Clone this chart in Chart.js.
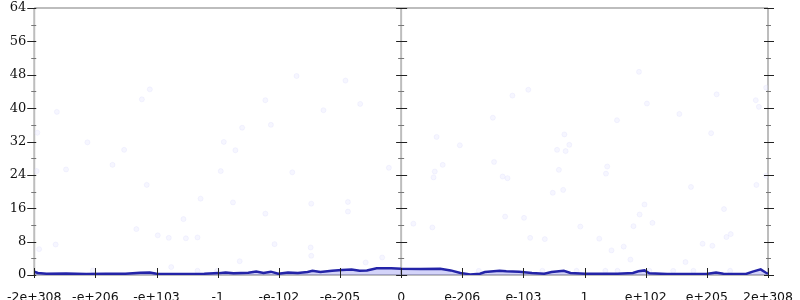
<!DOCTYPE html>
<html>
<head>
<meta charset="utf-8">
<script src="https://cdn.jsdelivr.net/npm/chart.js@4"></script>
<style>
  html, body { margin: 0; padding: 0; background: #fff; }
  #wrap { width: 800px; height: 300px; position: relative; }
</style>
</head>
<body>
<div id="wrap"><canvas id="chart"></canvas></div>
<script>
// x positions are slots -6..6, labelled with the float magnitudes
const xLabels = ['-2e+308', '-e+206', '-e+103', '-1', '-e-102', '-e-205', '0',
                 'e-206', 'e-103', '1', 'e+102', 'e+205', '2e+308'];

// faint scattered samples
const dotX = [-5.63, -5.95, -5.96, -5.13, -5.48, -4.72, -4.53, -4.24, -4.11, -4.16, -4.33, -3.98,
  -3.80, -3.52, -3.33, -3.56, -3.28, -2.95, -2.90, -2.71, -2.60, -2.75, -2.22, -2.13, -2.22,
  -1.78, -1.47, -1.27, -0.91, -0.67, -0.87, -0.87, -0.20, -1.71, -5.92, -5.65, -2.07, -1.48,
  -1.47, -2.64, -0.58, -0.31, -3.76, -5.04, -3.33, -3.01,
  0.20, 0.51, 0.53, 0.55, 0.68, 0.58, 0.96, 1.50, 1.52, 1.66, 1.74, 1.82, 2.08, 1.70, 2.01,
  2.11, 2.35, 2.48, 2.65, 2.58, 2.55, 2.69, 2.75, 2.67, 2.93, 3.24, 3.35, 3.37, 3.53, 3.80,
  3.90, 3.98, 4.11, 4.02, 4.55, 4.74, 5.07, 5.16, 5.28, 5.32, 5.39, 5.80, 5.85, 5.97, 5.81,
  3.89, 3.44, 3.64, 3.75, 4.65, 4.93, 5.09, 5.97, 1.27, 2.31, 2.87, 3.34, 3.54, 4.06, 4.45,
  4.78, 5.38];
const dotY = [39.1, 34.1, 24.9, 31.8, 25.3, 26.4, 30.0, 42.1, 44.5, 21.6, 11.0, 9.5,
  8.9, 8.8, 9.0, 13.4, 18.3, 24.9, 31.9, 29.9, 35.3, 17.4, 41.9, 36.0, 14.7,
  24.6, 17.1, 39.5, 46.6, 41.0, 17.5, 15.2, 25.7, 47.7, 6.2, 7.3, 7.4, 6.6,
  4.6, 3.3, 3.0, 4.2, 1.9, 1.1, 1.0, 1.0,
  12.3, 11.4, 23.4, 24.8, 26.4, 33.1, 31.1, 37.7, 27.1, 23.6, 23.2, 43.0, 44.4, 14.0, 13.7,
  8.9, 8.6, 19.7, 20.4, 25.2, 30.0, 29.7, 31.2, 33.7, 11.6, 8.7, 24.3, 26.0, 37.1, 11.7,
  14.5, 16.9, 12.5, 41.1, 38.6, 21.1, 34.0, 43.3, 15.8, 9.1, 9.8, 41.9, 40.3, 44.9, 21.6,
  48.7, 5.9, 6.8, 3.7, 3.1, 7.5, 7.0, 23.8, 1.0, 1.0, 1.0, 1.0, 1.0, 1.0, 1.0,
  1.0, 1.0];

// density line along the bottom
const lineX = [-6.0, -5.94, -5.8, -5.48, -5.15, -4.83, -4.51, -4.27, -4.11, -4.0, -3.62, -3.22,
  -2.98, -2.87, -2.74, -2.5, -2.37, -2.25, -2.13, -2.01, -1.85, -1.69, -1.53, -1.45, -1.32,
  -1.13, -0.97, -0.81, -0.68, -0.56, -0.4, -0.16, 0,
  0.32, 0.64, 0.81, 0.97, 1.13, 1.29, 1.37, 1.61, 1.72, 1.93, 2.14, 2.34, 2.46, 2.58, 2.66,
  2.77, 3.01, 3.54, 3.79, 3.88, 3.98, 4.06, 4.35, 4.99, 5.15, 5.27, 5.64, 5.75, 5.88, 5.96, 6.0];
const lineY = [0.8, 0.5, 0.3, 0.35, 0.25, 0.3, 0.3, 0.55, 0.6, 0.3, 0.25, 0.3,
  0.45, 0.6, 0.4, 0.55, 0.85, 0.5, 0.8, 0.3, 0.6, 0.5, 0.7, 1.0, 0.7,
  1.0, 1.2, 1.3, 1.0, 1.1, 1.6, 1.6, 1.5,
  1.45, 1.5, 1.1, 0.5, 0.15, 0.3, 0.7, 1.0, 0.9, 0.8, 0.5, 0.3, 0.7, 0.9, 1.0,
  0.5, 0.3, 0.3, 0.5, 0.9, 1.1, 0.4, 0.25, 0.25, 0.6, 0.3, 0.25, 0.8, 1.35, 0.6, 0.3];

const yMax = 64, yStep = 8;

// axes frame, centre axis and the cross ticks
const frame = {
  id: 'frame',
  beforeDatasetsDraw(chart) {
    const { ctx, chartArea: a, scales: { x } } = chart;
    const cx = x.getPixelForValue(0);
    ctx.save();
    ctx.strokeStyle = '#bdbdbd';
    ctx.lineWidth = 2;
    ctx.beginPath();
    ctx.moveTo(a.left, a.top); ctx.lineTo(a.right, a.top);
    ctx.moveTo(a.left, a.top); ctx.lineTo(a.left, a.bottom);
    ctx.moveTo(a.right, a.top); ctx.lineTo(a.right, a.bottom);
    ctx.moveTo(cx, a.top); ctx.lineTo(cx, a.bottom);
    ctx.moveTo(a.left, a.bottom); ctx.lineTo(a.right, a.bottom);
    ctx.stroke();
    ctx.restore();
  },
  afterDraw(chart) {
    const { ctx, chartArea: a, scales: { x, y } } = chart;
    const cx = x.getPixelForValue(0);
    ctx.save();
    ctx.lineWidth = 1;
    for (let v = 0; v <= yMax; v += yStep / 2) {
      const py = Math.round(y.getPixelForValue(v)) + 0.5;
      const major = v % yStep === 0;
      ctx.strokeStyle = major ? '#222' : '#777';
      ctx.beginPath();
      if (major) {
        ctx.moveTo(a.left - 7, py); ctx.lineTo(a.left + 2, py);
        ctx.moveTo(cx - 5, py); ctx.lineTo(cx + 6, py);
        ctx.moveTo(a.right - 4, py); ctx.lineTo(a.right + 6, py);
      } else {
        ctx.moveTo(a.left - 3, py); ctx.lineTo(a.left + 2, py);
        ctx.moveTo(cx - 3, py); ctx.lineTo(cx + 3, py);
        ctx.moveTo(a.right - 2, py); ctx.lineTo(a.right + 3, py);
      }
      ctx.stroke();
    }
    ctx.strokeStyle = '#222';
    xLabels.forEach((_, i) => {
      const px = Math.round(x.getPixelForValue(i - 6)) + 0.5;
      ctx.beginPath();
      ctx.moveTo(px, a.bottom - 7); ctx.lineTo(px, a.bottom + 3);
      ctx.stroke();
    });
    ctx.restore();
  }
};

new Chart(document.getElementById('chart'), {
  type: 'scatter',
  data: {
    datasets: [
      {
        type: 'line',
        data: lineX.map((v, i) => ({ x: v, y: lineY[i] })),
        borderColor: '#2424a8',
        borderWidth: 2.5,
        backgroundColor: 'rgba(80,80,230,0.25)',
        fill: 'origin',
        pointRadius: 0,
        tension: 0
      },
      {
        data: dotX.map((v, i) => ({ x: v, y: dotY[i] })),
        pointRadius: 2.5,
        pointBackgroundColor: 'rgba(225,225,255,0.3)',
        pointBorderColor: 'rgba(215,215,252,0.25)',
        pointBorderWidth: 1
      }
    ]
  },
  options: {
    responsive: true,
    maintainAspectRatio: false,
    animation: false,
    layout: { padding: { top: 8, right: 27, left: 0, bottom: 0 } },
    plugins: { legend: { display: false }, tooltip: { enabled: false } },
    scales: {
      x: {
        type: 'linear', min: -6, max: 6,
        grid: { display: false },
        border: { display: false },
        afterFit: s => { s.height = 25; },
        ticks: {
          stepSize: 1, autoSkip: false, maxRotation: 0, padding: 7,
          color: '#111', font: { family: 'DejaVu Sans', size: 12.5 },
          callback: v => xLabels[v + 6]
        }
      },
      y: {
        min: 0, max: yMax,
        grid: { display: false },
        border: { display: false },
        afterFit: s => { s.width = 28; },
        ticks: {
          stepSize: yStep, padding: 0,
          color: '#111', font: { family: 'DejaVu Serif', size: 13 }
        }
      }
    }
  },
  plugins: [frame]
});
</script>
</body>
</html>
